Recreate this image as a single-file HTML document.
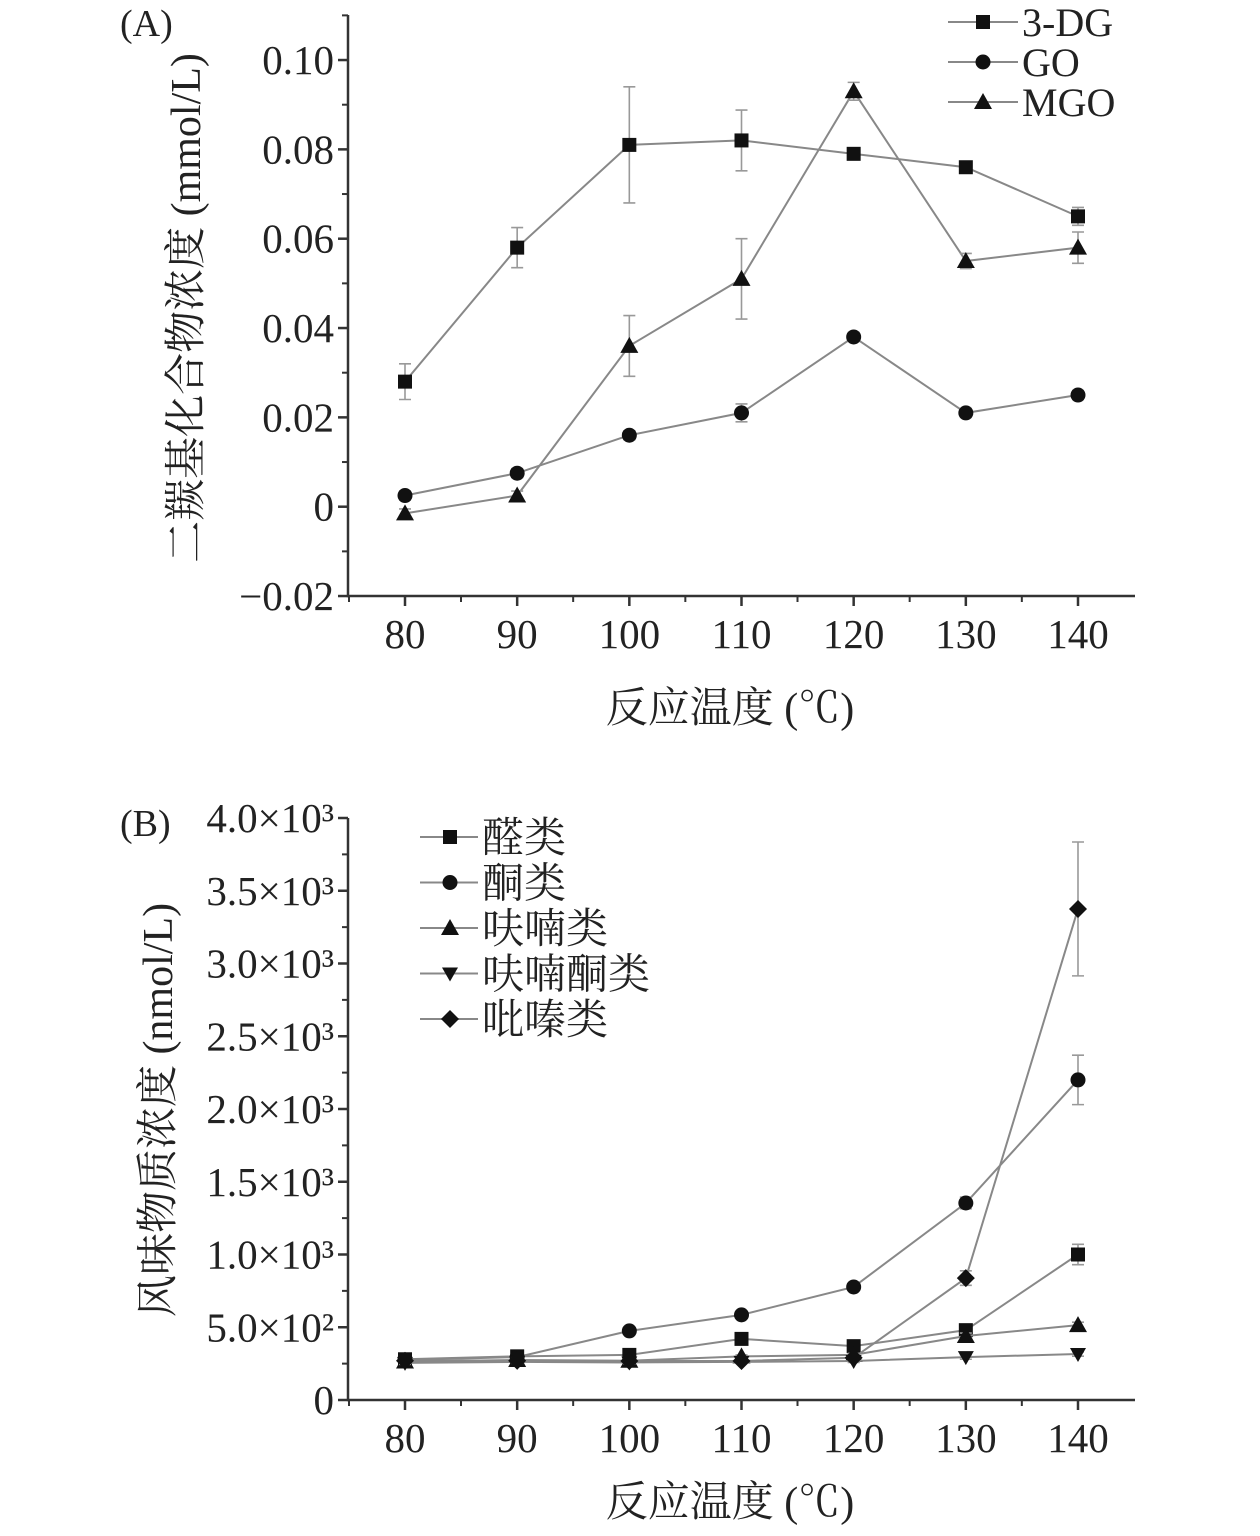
<!DOCTYPE html>
<html><head><meta charset="utf-8"><style>
html,body{margin:0;padding:0;background:#fff;}
svg text{font-family:"Liberation Serif","Noto Serif CJK SC",serif;fill:#222;}
</style></head><body>
<svg id="s" width="1260" height="1531" xmlns="http://www.w3.org/2000/svg"></svg>
<script>
const xCats=[80,90,100,110,120,130,140];
const aTickVals=[-0.02,0,0.02,0.04,0.06,0.08,0.10];
const aTickLabels=["\u22120.02","0","0.02","0.04","0.06","0.08","0.10"];
const dg3=[0.028,0.058,0.081,0.082,0.079,0.076,0.065];
const dg3Err=[0.004,0.0045,0.013,0.0068,0.001,0.001,0.002];
const go=[0.0025,0.0075,0.016,0.021,0.038,0.021,0.025];
const goErr=[0.001,0.001,0.001,0.002,0.001,0.001,0.001];
const mgo=[-0.0015,0.0025,0.036,0.051,0.093,0.055,0.058];
const mgoErr=[0.001,0.001,0.0068,0.009,0.002,0.0017,0.0035];
const bTickVals=[0,500,1000,1500,2000,2500,3000,3500,4000];
const bTickLabels=["0","5.0×10²","1.0×10³","1.5×10³","2.0×10³","2.5×10³","3.0×10³","3.5×10³","4.0×10³"];
const aldehydes=[280,300,310,420,370,480,1000];
const aldErr=[15,15,15,15,15,30,70];
const ketones=[275,295,475,585,777,1354,2200];
const ketErr=[15,15,15,15,15,40,170];
const furans=[265,275,270,300,310,440,515];
const furErr=[10,10,10,10,10,20,20];
const furanones=[255,262,258,262,268,295,316];
const furoErr=[10,10,10,10,10,15,15];
const pyrazines=[270,270,268,268,290,838,3375];
const pyrErr=[15,15,15,15,15,50,460];

const S=document.getElementById('s');const NS='http://www.w3.org/2000/svg';
function mk(t,a,p){const e=document.createElementNS(NS,t);for(const k in a)e.setAttribute(k,a[k]);(p||S).appendChild(e);return e;}
const xs=v=>405+(v-80)*(1078-405)/60;
const ya=v=>506.7-v*(536/0.12);
const yb=v=>1400-v*(582/4000);

function marker(g,type,x,y){
 if(type==='sq')mk('rect',{x:x-7,y:y-7,width:14,height:14,fill:'#111'},g);
 else if(type==='ci')mk('circle',{cx:x,cy:y,r:7.5,fill:'#111'},g);
 else if(type==='tr')mk('polygon',{points:`${x},${y-9} ${x-9},${y+7} ${x+9},${y+7}`,fill:'#111'},g);
 else if(type==='it')mk('polygon',{points:`${x},${y+8} ${x-8},${y-6} ${x+8},${y-6}`,fill:'#111'},g);
 else if(type==='di')mk('polygon',{points:`${x},${y-9} ${x+9},${y} ${x},${y+9} ${x-9},${y}`,fill:'#111'},g);
}
function series(name,vals,errs,ys,type){
 const g=mk('g',{});
 
 
 mk('polyline',{points:vals.map((v,i)=>xs(xCats[i])+','+ys(v)).join(' '),fill:'none',stroke:'#888','stroke-width':2},g);
 vals.forEach((v,i)=>{const x=xs(xCats[i]);const t=ys(v+errs[i]),b=ys(v-errs[i]);
  mk('path',{d:`M${x},${t}V${b}M${x-6},${t}H${x+6}M${x-6},${b}H${x+6}`,stroke:'#999','stroke-width':1.6,fill:'none'},g);
  marker(g,type,x,ys(v));});
}
function axes(name,top,bottom,ticks,labels,ys,minor){
 const g=mk('g',{});
 
 
 mk('path',{d:`M348,${top}V${bottom}H1135`,stroke:'#333','stroke-width':2.5,fill:'none'},g);
 ticks.forEach((v,i)=>{const y=ys(v);mk('line',{x1:338,x2:348,y1:y,y2:y,stroke:'#333','stroke-width':2.5},g);
  const t=mk('text',{x:334,y:y+14,'text-anchor':'end','font-size':41},g);t.textContent=labels[i];});
 minor.forEach(v=>{const y=ys(v);mk('line',{x1:342,x2:348,y1:y,y2:y,stroke:'#333','stroke-width':2},g);});
 xCats.forEach((c,i)=>{const x=xs(c);mk('line',{x1:x,x2:x,y1:bottom,y2:bottom+10,stroke:'#333','stroke-width':2.5},g);
  if(i<6)mk('line',{x1:x+56,x2:x+56,y1:bottom,y2:bottom+6,stroke:'#333','stroke-width':2},g);
  const t=mk('text',{x:x,y:bottom+52,'text-anchor':'middle','font-size':41},g);t.textContent=c;});
 mk('line',{x1:349,x2:349,y1:bottom,y2:bottom+6,stroke:'#333','stroke-width':2},g);
}
function txt(name,x,y,s,str,extra){const t=mk('text',Object.assign({x:x,y:y,'font-size':s},extra||{}));t.textContent=str;
 return t;}

// Chart A
axes('axes-a',15,596,aTickVals,aTickLabels,ya,[-0.01,0.01,0.03,0.05,0.07,0.09,0.11].filter(v=>ya(v)>15));
series('series-3dg',dg3,dg3Err,ya,'sq');
series('series-go',go,goErr,ya,'ci');
series('series-mgo',mgo,mgoErr,ya,'tr');
txt('panel-label-a',120,36,38,'(A)');
txt('x-axis-title-a',730,722,42,'反应温度 (℃)',{'text-anchor':'middle'});
txt('y-axis-title-a',0,0,42,'二羰基化合物浓度 (mmol/L)',{'text-anchor':'middle',transform:'translate(200,308) rotate(-90)'});
[['3-DG','sq'],['GO','ci'],['MGO','tr']].forEach((l,i)=>{const y=22+i*40;const g=mk('g',{});
 
 mk('line',{x1:948,x2:1018,y1:y,y2:y,stroke:'#888','stroke-width':2},g);marker(g,l[1],983,y);
 const t=mk('text',{x:1022,y:y+14,'font-size':40},g);t.textContent=l[0];});

// Chart B
axes('axes-b',818,1400,bTickVals,bTickLabels,yb,[250,750,1250,1750,2250,2750,3250,3750]);
series('series-aldehydes',aldehydes,aldErr,yb,'sq');
series('series-ketones',ketones,ketErr,yb,'ci');
series('series-furans',furans,furErr,yb,'tr');
series('series-furanones',furanones,furoErr,yb,'it');
series('series-pyrazines',pyrazines,pyrErr,yb,'di');
txt('panel-label-b',120,836,38,'(B)');
txt('x-axis-title-b',730,1516,42,'反应温度 (℃)',{'text-anchor':'middle'});
txt('y-axis-title-b',0,0,42,'风味物质浓度 (nmol/L)',{'text-anchor':'middle',transform:'translate(172,1110) rotate(-90)'});
[['醛类','sq'],['酮类','ci'],['呋喃类','tr'],['呋喃酮类','it'],['吡嗪类','di']].forEach((l,i)=>{const y=837+i*45.5;const g=mk('g',{});
 
 mk('line',{x1:420,x2:478,y1:y,y2:y,stroke:'#888','stroke-width':2},g);marker(g,l[1],450,y);
 const t=mk('text',{x:482,y:y+15,'font-size':42},g);t.textContent=l[0];});
</script>
</body></html>
